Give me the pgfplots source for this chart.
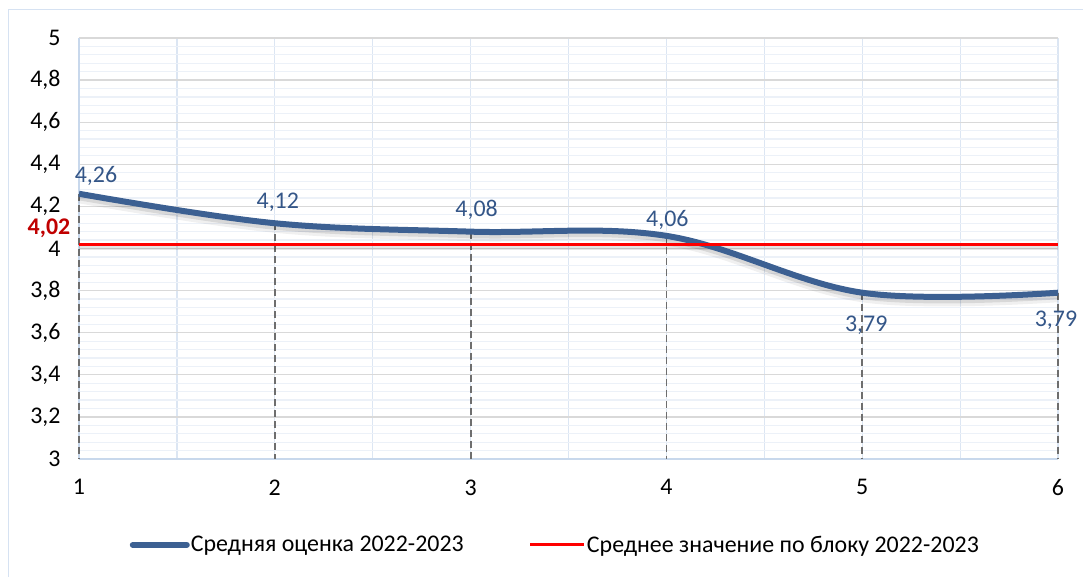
\documentclass[border=0pt]{standalone}
\usepackage{fontspec}
\setmainfont{Carlito}
\usepackage{pgfplots}
\pgfplotsset{compat=1.18}
\usepackage{pgfplotstable}

\definecolor{blueline}{RGB}{60,96,146}
\definecolor{labelc}{RGB}{52,86,136}
\definecolor{darkred}{RGB}{192,0,0}
\definecolor{hgrid}{RGB}{217,217,217}
\definecolor{mgrid}{RGB}{236,241,248}
\definecolor{vgrid}{RGB}{220,230,243}
\definecolor{axisc}{RGB}{200,216,236}
\definecolor{bordc}{RGB}{214,226,242}
\definecolor{dropc}{RGB}{110,110,110}

\pgfplotstableread{
x y lbl dx dy
1 4.26 4,26 17 18
2 4.12 4,12 3 21
3 4.08 4,08 6 22
4 4.06 4,06 1 16
5 3.79 3,79 4 -33
6 3.79 3,79 -2 -28
}\means

\begin{document}
\begin{tikzpicture}[x=1bp,y=1bp]
\path[use as bounding box] (0,0) rectangle (1083,577);
\draw[bordc, line width=1.2bp] (8.5,-2) -- (8.5,567.5) -- (1085,567.5);
\begin{axis}[
  scale only axis, width=979bp, height=421bp,
  at={(79bp,118bp)}, anchor=south west,
  xmin=1, xmax=6, ymin=3, ymax=5,
  xtick={1,2,3,4,5,6}, minor x tick num=1,
  ytick={3,3.2,3.4,3.6,3.8,4,4.2,4.4,4.6,4.8,5},
  minor y tick num=4,
  xmajorgrids, xminorgrids, ymajorgrids, yminorgrids,
  major x grid style={color=vgrid, line width=1.2bp},
  minor x grid style={color=vgrid, line width=1.2bp},
  major y grid style={color=hgrid, line width=1.3bp},
  minor y grid style={color=mgrid, line width=1.2bp},
  axis x line*=bottom, axis y line*=left,
  axis line style={color=axisc, line width=1.3bp, -},
  major tick length=0pt, minor tick length=0pt,
  tick label style={font=\fontsize{24}{28}\selectfont, text=black},
  /pgf/number format/assume math mode=true,
  /pgf/number format/use comma,
  yticklabel style={xshift=-15bp},
  xticklabel style={yshift=-17bp},
  clip=false,
  legend style={at={(0.486,-0.204)}, anchor=center, draw=none, fill=none,
    font=\fontsize{24}{28}\selectfont,
    nodes={inner xsep=1bp},
    /tikz/every even column/.append style={column sep=64bp}},
  legend columns=2,
  legend image code/.code={\draw[#1] (0bp,0bp) -- (54bp,0bp);},
]
% drop lines
\addplot[draw=none, forget plot,
  error bars/.cd, y dir=minus, y explicit, error mark=none,
  error bar style={color=dropc, line width=1.8bp, dash pattern=on 7bp off 4bp}]
  table[x=x, y=y, y error expr=\thisrow{y}-3]{\means};
% shadows
\addplot[forget plot, color=black, opacity=0.06, line width=11bp, smooth, tension=0.6, yshift=-4bp] table[x=x,y=y]{\means};
\addplot[forget plot, color=black, opacity=0.10, line width=7bp, smooth, tension=0.6, yshift=-3bp] table[x=x,y=y]{\means};
\addplot[forget plot, color=black, opacity=0.10, line width=5bp, yshift=-3bp] coordinates {(1,4.02) (6,4.02)};
% main series
\addplot[color=blueline, line width=6bp, smooth, tension=0.6,
  legend image post style={line cap=round}] table[x=x,y=y]{\means};
\addlegendentry{Средняя оценка 2022-2023}
\addplot[color=red, line width=3.2bp] coordinates {(1,4.02) (6,4.02)};
\addlegendentry{Среднее значение по блоку 2022-2023}
% data labels
\addplot[draw=none, forget plot, point meta=explicit symbolic,
  visualization depends on={\thisrow{dx} \as \dx},
  visualization depends on={\thisrow{dy} \as \dy},
  nodes near coords,
  nodes near coords style={anchor=center, xshift=\dx bp, yshift=\dy bp,
    text=labelc, font=\fontsize{24}{28}\selectfont}]
  table[x=x, y=y, meta=lbl]{\means};
\addplot[draw=none, forget plot,
  nodes near coords={\textbf{4,02}},
  nodes near coords style={anchor=center, xshift=-30bp, yshift=16bp,
    text=darkred, font=\fontsize{24}{28}\selectfont}]
  coordinates {(1,4.02)};
\end{axis}
\end{tikzpicture}
\end{document}
